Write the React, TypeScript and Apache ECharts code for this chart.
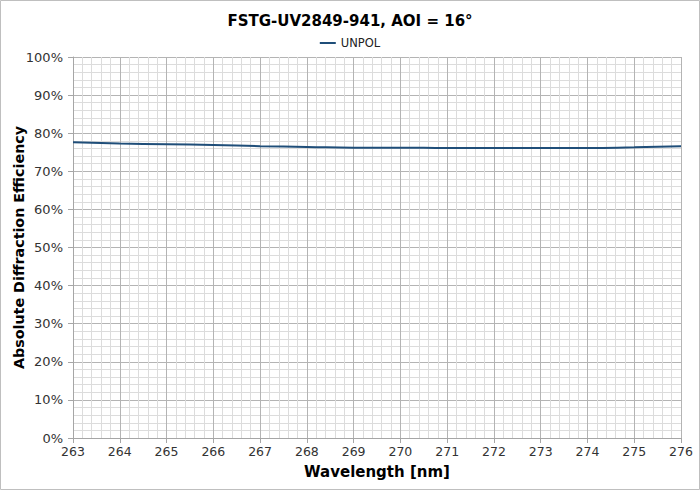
import React, { useEffect, useRef } from "react";
import * as echarts from "echarts";

// wavelength [nm] and efficiency [%]
const wavelengths = [263, 264, 265, 266, 267, 268, 269, 270, 271, 272, 273, 274, 275, 276];
const unpol = [77.6, 77.3, 77.1, 76.9, 76.6, 76.4, 76.2, 76.2, 76.1, 76.1, 76.1, 76.1, 76.3, 76.6];

const title = "FSTG-UV2849-941, AOI = 16°";
const seriesName = "UNPOL";

const App = () => {
  const chartRef = useRef<HTMLDivElement>(null);

  useEffect(() => {
    const dom = chartRef.current;
    if (!dom) return;
    const chart = echarts.init(dom, null, { renderer: "svg" });
    const font = "DejaVu Sans";

    chart.setOption({
      animation: false,
      backgroundColor: "#fff",
      title: {
        text: title,
        left: "center",
        top: 8,
        textStyle: { fontFamily: font, fontSize: 15, fontWeight: "bold", color: "#000" },
      },
      legend: {
        data: [seriesName],
        top: 32,
        left: "center",
        icon: "rect",
        itemWidth: 16,
        itemHeight: 2,
        itemGap: 4,
        textStyle: { fontFamily: font, fontSize: 11.5, color: "#222" },
      },
      grid: { left: 73, right: 19, top: 57, bottom: 52, outerBoundsMode: "none" },
      xAxis: {
        type: "value",
        min: 263,
        max: 276,
        interval: 1,
        name: "Wavelength [nm]",
        nameLocation: "middle",
        nameGap: 26,
        nameTextStyle: { fontFamily: font, fontSize: 15, fontWeight: "bold", color: "#000" },
        axisLine: { show: true, lineStyle: { color: "#a6a6a6" } },
        axisTick: { show: true, length: 5, lineStyle: { color: "#a6a6a6" } },
        axisLabel: { fontFamily: font, fontSize: 12.5, color: "#333", margin: 7 },
        splitLine: { show: true, lineStyle: { color: "#b4b4b4", width: 1 } },
        minorTick: { show: false, splitNumber: 5 },
        minorSplitLine: { show: true, lineStyle: { color: "#dcdcdc", width: 1 } },
      },
      yAxis: {
        type: "value",
        min: 0,
        max: 100,
        interval: 10,
        name: "Absolute Diffraction Efficiency",
        nameLocation: "middle",
        nameGap: 47,
        nameTextStyle: { fontFamily: font, fontSize: 14.3, fontWeight: "bold", color: "#000", padding: [0, 0, 0, 0] },
        nameMoveOverlap: false,
        axisLine: { show: true, lineStyle: { color: "#a6a6a6" } },
        axisTick: { show: true, length: 5, lineStyle: { color: "#a6a6a6" } },
        axisLabel: { fontFamily: font, fontSize: 13, color: "#333", margin: 10, formatter: "{value}%" },
        splitLine: { show: true, lineStyle: { color: "#b4b4b4", width: 1 } },
        minorTick: { show: false, splitNumber: 5 },
        minorSplitLine: { show: true, lineStyle: { color: "#dcdcdc", width: 1 } },
      },
      series: [
        {
          name: seriesName,
          type: "line",
          data: wavelengths.map((w, i) => [w, unpol[i]]),
          smooth: true,
          showSymbol: false,
          lineStyle: { color: "#1f4e79", width: 2 },
          itemStyle: { color: "#1f4e79" },
        },
      ],
      graphic: [
        {
          type: "rect",
          shape: { x: 0.5, y: 0.5, width: 699, height: 489 },
          style: { fill: "none", stroke: "#bfbfbf", lineWidth: 1 },
          silent: true,
        },
      ],
    });

    return () => {
      chart.dispose();
    };
  }, []);

  return (
    <div
      ref={chartRef}
      style={{ position: "absolute", left: 0, top: 0, width: 700, height: 490 }}
    ></div>
  );
};

export default App;
